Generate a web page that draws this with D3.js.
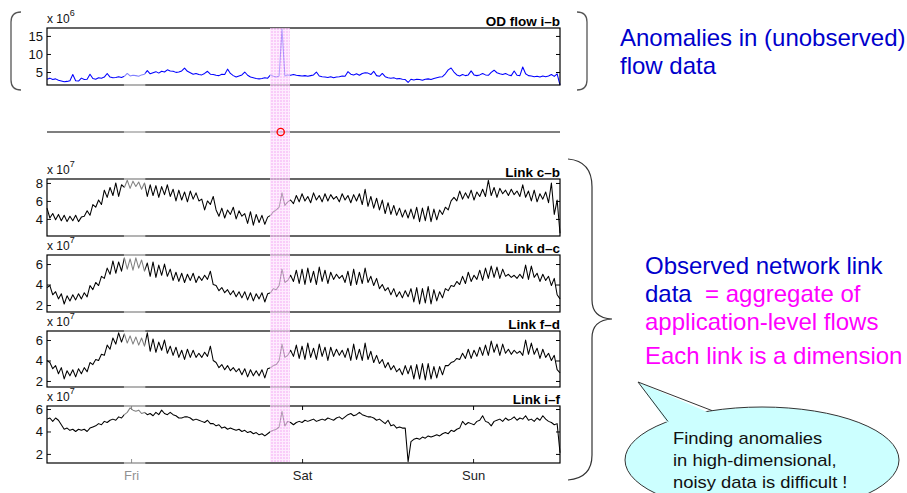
<!DOCTYPE html>
<html>
<head>
<meta charset="utf-8">
<script src="https://cdn.jsdelivr.net/npm/d3@7"></script>
<style>
  body { margin: 0; background: #fff; }
  svg { display: block; }
</style>
</head>
<body>
<div id="chart"></div>
<script>
const FONT = "'Liberation Sans', Arial, sans-serif";
const W = 907, H = 493;
const LEFT = 47, RIGHT = 560;

// time runs in hours since Thursday 00:00
const T0 = 12.2, T1 = 84.2;
const dayTicks = [24, 48, 72];
const dayLabels = ["Fri", "Sat", "Sun"];
const anomalyHour = 45;
const anomalyBand = [43.5, 46.3];
const fadedBand = [23, 26];

// OD flow i-b  (x 10^6)
const odFlow = [
  3.0,3.3,2.9,3.1,2.7,2.5,2.3,2.4,2.6,4.3, 2.6,2.5,3.3,2.9,3.0,4.4,3.2,3.0,3.4,3.3,
  3.6,4.6,3.6,3.4,3.5,3.7,3.5,3.8,4.6,3.9, 4.1,4.0,3.8,4.2,4.4,5.4,4.5,4.8,5.1,4.7,
  5.2,5.0,5.6,5.3,5.2,4.9,5.0,5.3,6.1,5.2, 4.8,4.4,4.6,4.3,4.2,4.6,5.2,4.4,4.3,4.1,
  4.0,4.4,4.3,5.8,4.6,4.0,3.6,3.9,4.2,5.0, 4.1,3.6,3.4,3.2,3.1,3.2,3.4,3.3,4.2,3.8,
  3.6,3.9,17.0,3.9,4.2,4.1,4.3,4.1,4.0,3.9, 4.0,3.8,4.0,4.2,5.0,3.9,3.7,3.6,3.5,3.7,
  3.4,3.6,3.7,3.9,3.8,5.1,4.4,4.2,4.5,4.1, 4.6,4.8,4.7,4.3,5.2,4.0,3.8,4.6,3.7,3.4,
  3.3,3.4,3.1,3.2,3.0,2.9,2.1,3.0,2.8,3.0, 2.9,2.7,3.0,3.1,2.9,3.2,3.4,3.6,3.7,4.5,
  5.6,6.1,5.0,4.2,3.9,4.3,4.0,4.2,5.3,4.2, 4.0,4.2,4.6,4.2,4.1,4.9,5.5,4.8,4.5,4.3,
  4.6,4.2,4.0,5.3,4.1,4.0,6.4,4.5,4.0,3.9, 3.7,3.8,3.6,3.9,3.7,3.9,4.3,3.8,4.5,1.4
];

// Link c-b  (x 10^7)
const linkCB = [
  5.2,4.1,4.6,3.9,4.5,3.8,4.4,3.7,4.3,3.8,4.4,3.7,4.2,
  4.3,4.9,4.4,5.6, 5.3,6.1,5.6, 7.2,6.4,7.5,6.6, 8.0,6.5,7.8,
  7.5,8.3,7.4,8.2,7.6,8.1,7.3,8.0,
  6.5,7.8,6.6,7.7,6.4,7.6,6.7,7.8,6.5,
  7.3,6.0,7.2,6.1,7.0,5.9,7.1,6.2,6.9,6.0,
  6.2,5.0,6.0,5.6, 6.5,
  5.0,4.3,5.2,4.1,5.0,4.5,5.3,4.0,4.9,4.3,
  4.6,3.5,4.8,3.3,4.5,3.6,4.4,3.4,4.2,
  4.4,4.8,5.0,5.3,6.9,5.5,5.9,6.1,
  5.7,6.6,5.9,6.8,6.0,6.5,5.8,6.9,6.1,6.6,5.9,6.8,6.0,6.7,6.2,6.5,5.9,6.8,6.1,6.6,5.8,6.7,
  6.0,6.8,5.6,7.3,5.4,6.5,5.2,6.3,5.0,6.1,
  4.6,5.8,4.5,5.5,4.4, 5.2,4.2,5.0,4.1,5.1,4.0,
  5.3,3.7,5.2,3.8,5.4,3.7,5.1,3.9,5.0,4.5,
  5.3,5.0,6.0,
  6.4,6.0,7.1,6.2,6.9,6.3,7.2,6.1,7.0,6.5,
  7.3,6.5,8.3,6.6,7.5,6.4,7.4,6.8,7.2,6.6,7.3,6.7,7.1,6.5,7.8,6.4,
  7.1,6.0,7.2,5.9,6.8,6.2,7.0,5.8,
  8.0,4.5,6.1,2.4
];

// Link d-c  (x 10^7)
const linkDC = [
  3.7,3.9,3.0,3.3,2.6,3.1,2.1,2.9,2.4,3.0,2.5,3.1,2.6,
  3.2,2.8,3.9,3.5, 4.2,3.9,4.8, 4.6,5.6,5.0,6.3, 5.1,6.2,5.3,
  6.6,5.5,6.5,5.4,6.6,5.6,6.4,5.3,
  6.1,4.8,6.2,4.7,5.9,4.9,6.0,4.8,5.5,
  4.4,5.2,4.3,5.1,4.2,5.0,4.4,5.1,4.2,4.8,
  4.4,4.9,4.5,5.3, 4.0,
  3.9,3.4,3.7,3.2,3.5,3.0,3.4,2.8,3.3,2.7,
  3.3,2.5,3.2,2.4,3.1,2.6,3.2,2.3,3.1,
  3.2,3.6,3.5,3.9,5.5,4.2,4.4,4.9,
  4.3,5.4,4.1,5.5,4.0,5.6,4.2,5.3,4.0,5.7,4.3,5.4,4.1,5.2,4.5,5.0,4.6,4.9,4.2,5.3,3.9,5.5,
  4.0,5.2,4.1,5.6,4.2,4.8,3.9,4.6,3.6,4.0,
  3.4,3.7,3.0,3.6,2.8, 3.3,2.7,3.4,2.8,3.6,2.3,
  3.7,2.1,3.6,2.2,3.8,2.1,3.5,2.4,3.3,2.7,
  3.6,3.4,3.9,
  3.8,4.3,4.0,4.8,4.1,5.2,4.3,4.9,4.5,5.4,
  4.4,5.6,4.6,5.8,4.7,5.7,4.6,5.5,4.8,5.0,4.7,4.9,4.6,5.0,4.6,5.9,
  4.5,5.8,4.7,5.1,4.3,5.0,4.4,4.8,
  3.9,4.6,3.0,2.6
];

// Link f-d  (x 10^7)
const linkFD = [
  4.0,3.8,3.2,3.5,2.7,3.3,2.2,3.0,2.5,3.1,2.4,3.2,2.7,
  3.3,2.9,3.8,3.6, 4.1,4.0,4.6, 4.5,5.5,5.1,6.2, 5.6,6.7,5.8,
  6.6,5.7,6.4,5.6,6.3,5.5,6.2,5.4,
  6.7,4.9,6.1,4.8,5.8,5.0,6.0,4.7,5.4,
  4.5,5.3,4.3,5.0,4.1,5.1,4.3,5.0,4.3,4.7,
  4.3,4.8,4.4,5.4, 4.0,
  3.8,3.3,3.6,3.1,3.5,3.0,3.3,2.9,3.2,2.6,
  3.2,2.4,3.1,2.5,3.0,2.5,3.1,2.3,3.2,
  3.3,3.5,3.6,4.0,5.6,4.3,4.5,5.0,
  4.4,5.5,4.2,5.4,4.1,5.7,4.3,5.2,4.1,5.6,4.4,5.3,4.0,5.3,4.4,5.1,4.5,5.0,4.3,5.2,4.0,5.6,
  4.1,5.1,4.0,5.7,4.1,4.9,3.8,4.5,3.7,4.1,
  3.3,3.8,3.1,3.5,2.9, 3.2,2.6,3.5,2.7,3.5,2.2,
  3.6,2.2,3.7,2.1,3.7,2.2,3.4,2.3,3.4,2.6,
  3.5,3.5,3.8,
  3.9,4.2,4.1,4.7,4.2,5.1,4.2,5.0,4.4,5.3,
  4.5,5.5,4.5,5.9,4.8,5.6,4.5,5.6,4.7,5.1,4.6,5.0,4.7,4.9,4.5,6.0,
  4.6,5.7,4.6,5.2,4.2,5.1,4.3,4.7,
  4.0,4.5,3.1,2.8
];

// Link i-f  (x 10^7)
const linkIF = [
  5.1,5.2,4.9,5.2,5.0, 4.6,4.2,4.3, 4.1,4.2,4.0,4.2,4.1,4.2,
  4.0,4.3,4.4,4.5,4.7,4.6,4.9,4.8,5.0,5.1,5.0,5.3,5.2,
  5.5,5.7,6.1,5.9,5.8,5.9,5.6,5.7,
  5.5,5.6,5.4,5.7,5.5,5.9,5.6,5.5,5.7,
  5.5,5.4,5.2,5.2,5.3,5.3,5.2,5.0,5.1,5.0,
  4.9,4.8,5.0,4.7,
  4.7,4.5,4.6,4.3,4.4,4.2,4.3,4.2,4.1,4.2,4.0,
  4.1,3.9,4.0,3.8,3.9,3.7,3.8,3.6,3.8,
  4.0,4.1,4.2,4.4,5.8,4.5,4.9,4.8,
  4.6,4.8,4.9,4.8,5.0,4.9,5.0,5.1,4.9,5.0,5.1,5.0,5.2,5.1,5.0,5.2,5.3,5.1,5.3,5.5,5.6,5.4,
  5.5,5.7,5.5,5.4,5.3,5.3,5.2,5.0,5.1,4.9,
  4.7,5.0,4.5,4.6,4.3, 4.4,4.3,4.3,1.3,3.1,3.3,
  3.4,3.3,3.5,3.4,3.6,3.5,3.6,3.7,3.6,3.8,
  3.9,3.8,4.1,
  4.0,4.2,4.3,4.9,4.6,4.8,4.7,4.6,4.9,5.0,
  5.4,4.9,4.8,4.5,4.9,5.0,5.1,4.9,5.2,5.0,5.1,5.3,5.0,5.2,5.1,5.4,
  5.0,5.1,4.9,5.2,5.0,5.4,5.1,4.9,
  4.8,4.6,4.7,2.1
];

const panels = [
  { title: "OD flow i\u2013b", exp: "6", data: odFlow, color: "#0000ff",
    top: 28, bottom: 85, domain: [1.4, 17.2], ticks: [5, 10, 15] },
  { title: "Link c\u2013b", exp: "7", data: linkCB, color: "#000",
    top: 179, bottom: 236, domain: [2.1, 8.44], ticks: [4, 6, 8] },
  { title: "Link d\u2013c", exp: "7", data: linkDC, color: "#000",
    top: 255, bottom: 312, domain: [1.32, 6.88], ticks: [2, 4, 6] },
  { title: "Link f\u2013d", exp: "7", data: linkFD, color: "#000",
    top: 331, bottom: 387, domain: [1.41, 6.88], ticks: [2, 4, 6] },
  { title: "Link i\u2013f", exp: "7", data: linkIF, color: "#000",
    top: 406, bottom: 463, domain: [1.19, 6.27], ticks: [2, 4, 6], days: true }
];

const svg = d3.select("#chart").append("svg")
  .attr("width", W).attr("height", H)
  .style("font-family", FONT);

const defs = svg.append("defs");
const pink = defs.append("pattern").attr("id", "pinkDots")
  .attr("patternUnits", "userSpaceOnUse").attr("width", 3).attr("height", 3);
pink.append("rect").attr("width", 3).attr("height", 3).attr("fill", "#f6b8f6");
pink.append("rect").attr("width", 1).attr("height", 3).attr("fill", "#fde4fd");
pink.append("rect").attr("width", 3).attr("height", 1).attr("fill", "#fde4fd");

const x = d3.scaleLinear().domain([T0, T1]).range([LEFT, RIGHT]);

panels.forEach(p => {
  const y = d3.scaleLinear().domain(p.domain).range([p.bottom, p.top]);
  const t = d3.scaleLinear().domain([0, p.data.length - 1]).range([T0, T1]);
  const g = svg.append("g");

  g.append("path")
    .datum(p.data)
    .attr("fill", "none")
    .attr("stroke", p.color)
    .attr("stroke-width", 1.05)
    .attr("stroke-linejoin", "round")
    .attr("d", d3.line().x((d, i) => x(t(i))).y(d => y(d)));

  const yl = g.append("g")
    .attr("transform", `translate(${LEFT},0)`)
    .call(d3.axisLeft(y).tickValues(p.ticks).tickFormat(d3.format("d"))
      .tickSize(-4).tickPadding(4));
  yl.select(".domain").remove();
  yl.attr("font-size", 13).attr("font-family", FONT).attr("color", "#111");

  const yr = g.append("g")
    .attr("transform", `translate(${RIGHT},0)`)
    .call(d3.axisRight(y).tickValues(p.ticks).tickSize(-4).tickFormat(""));
  yr.select(".domain").remove();

  if (p.days) {
    const xb = g.append("g")
      .attr("transform", `translate(0,${p.bottom})`)
      .call(d3.axisBottom(x).tickValues(dayTicks)
        .tickFormat((d, i) => dayLabels[i]).tickSize(-4).tickPadding(8));
    xb.select(".domain").remove();
    xb.attr("font-size", 13).attr("font-family", FONT).attr("color", "#222");
    const xt = g.append("g")
      .attr("transform", `translate(0,${p.top})`)
      .call(d3.axisTop(x).tickValues(dayTicks).tickSize(-4).tickFormat(""));
    xt.select(".domain").remove();
  }

  g.append("rect")
    .attr("x", LEFT).attr("y", p.top)
    .attr("width", RIGHT - LEFT).attr("height", p.bottom - p.top)
    .attr("fill", "none").attr("stroke", "#000").attr("stroke-width", 1.2);

  const ex = g.append("text")
    .attr("x", LEFT).attr("y", p.top - 5)
    .attr("font-size", 12).attr("fill", "#111");
  ex.append("tspan").text("x 10");
  ex.append("tspan").attr("dy", -7).attr("font-size", 9).text(p.exp);

  g.append("text")
    .attr("x", RIGHT).attr("y", p.top - 2)
    .attr("text-anchor", "end")
    .attr("font-size", 13.5).attr("font-weight", "bold")
    .text(p.title);
});

// indicator row
svg.append("line")
  .attr("x1", LEFT).attr("x2", RIGHT).attr("y1", 132).attr("y2", 132)
  .attr("stroke", "#000").attr("stroke-width", 1.2);

// highlighted anomaly interval
svg.append("rect")
  .attr("x", x(anomalyBand[0])).attr("y", 28)
  .attr("width", x(anomalyBand[1]) - x(anomalyBand[0])).attr("height", 434)
  .attr("fill", "url(#pinkDots)").attr("opacity", 0.72);

svg.append("rect")
  .attr("x", x(fadedBand[0])).attr("y", 60)
  .attr("width", x(fadedBand[1]) - x(fadedBand[0])).attr("height", 424)
  .attr("fill", "#fff").attr("opacity", 0.5);

svg.append("circle")
  .attr("cx", x(anomalyHour)).attr("cy", 132).attr("r", 3.6)
  .attr("fill", "none").attr("stroke", "#ff0000").attr("stroke-width", 1.4);

// brackets
svg.append("path")
  .attr("d", "M21,12 Q11,12 11,22 L11,80 Q11,90 21,90")
  .attr("fill", "none").attr("stroke", "#555").attr("stroke-width", 1.3);
svg.append("path")
  .attr("d", "M577,12 Q587,12 587,22 L587,80 Q587,90 577,90")
  .attr("fill", "none").attr("stroke", "#555").attr("stroke-width", 1.3);
svg.append("path")
  .attr("d", "M568,159 Q592,161 592,187 L592,300 Q592,318 612,319 Q592,320 592,338 L592,455 Q592,478 568,480")
  .attr("fill", "none").attr("stroke", "#333").attr("stroke-width", 1.2);

// annotations
const blue = "#0000cc", magenta = "#ff00ff";
const note = (txt, xx, yy, col) => svg.append("text")
  .attr("x", xx).attr("y", yy).attr("font-size", 24).attr("fill", col).text(txt);

note("Anomalies in (unobserved)", 620, 46, blue);
note("flow data", 620, 74, blue);
note("Observed network link", 645, 274, blue);
const l2 = note("data", 645, 302, blue);
l2.append("tspan").attr("x", 705).attr("fill", magenta).text("= aggregate of");
note("application-level flows", 645, 330, magenta);
note("Each link is a dimension", 645, 364, magenta);

// speech bubble
svg.append("ellipse")
  .attr("cx", 762).attr("cy", 460).attr("rx", 137).attr("ry", 53)
  .attr("fill", "#ccffff").attr("stroke", "#333").attr("stroke-width", 1);
svg.append("polygon")
  .attr("points", "668,424 638,382 712,414")
  .attr("fill", "#ccffff");
svg.append("path")
  .attr("d", "M668,421.5 L638,382 L712,410.6")
  .attr("fill", "none").attr("stroke", "#333").attr("stroke-width", 1);

const bubble = svg.append("g").attr("transform", "translate(673,0) scale(1.15,1)");
["Finding anomalies", "in high-dimensional,", "noisy data is difficult !"].forEach((s, i) => {
  bubble.append("text")
    .attr("x", 0).attr("y", 444 + i * 22)
    .attr("font-size", 16).attr("fill", "#111").text(s);
});
</script>
</body>
</html>
